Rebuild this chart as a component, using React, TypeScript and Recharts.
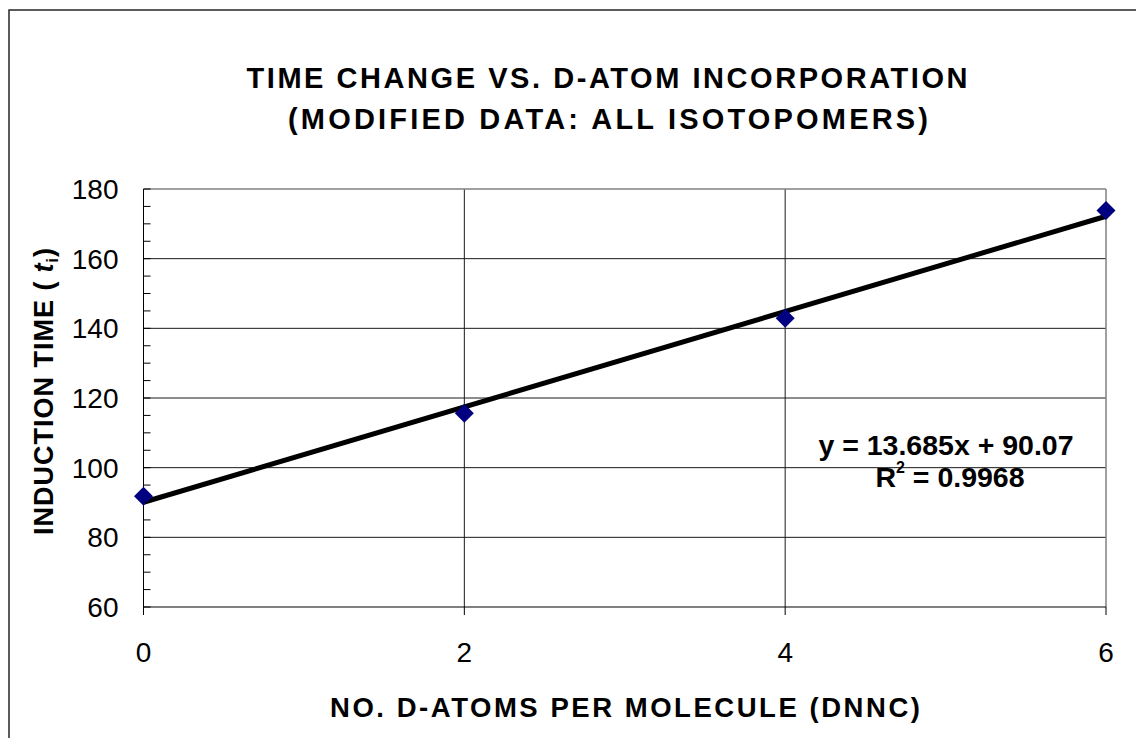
import {
  ComposedChart,
  Line,
  Scatter,
  XAxis,
  YAxis,
  CartesianGrid,
  ReferenceLine,
} from 'recharts'

const FONT = '"Liberation Sans", Arial, sans-serif'

// measured points (no. of D-atoms vs induction time)
const dAtoms = [0, 2, 4, 6]
const inductionTimes = [91.8, 115.6, 142.9, 173.8]

// linear trendline endpoints, y = 13.685x + 90.07
const trendX = [0, 6]
const trendY = [90.07, 172.18]

const xTicks = [0, 2, 4, 6]
const yGridValues = [80, 100, 120, 140, 160]
const yMinorTicks = [
  60, 65, 70, 75, 80, 85, 90, 95, 100, 105, 110, 115, 120, 125, 130, 135, 140, 145, 150, 155, 160,
  165, 170, 175, 180,
]

const points = dAtoms.map((x, i) => ({ x, y: inductionTimes[i] }))
const trend = trendX.map((x, i) => ({ x, y: trendY[i] }))

const Y_TICK_MARGIN = 25

const Diamond = (props: any) => {
  const { cx, cy } = props
  if (cx == null || cy == null) return null
  const r = 9.5
  return (
    <polygon
      points={`${cx},${cy - r} ${cx + r},${cy} ${cx},${cy + r} ${cx - r},${cy}`}
      fill="#000080"
    />
  )
}

// y tick: inward tick mark every 5, label only every 20
const YTick = (props: any) => {
  const { x, y, payload } = props
  const axisX = x + Y_TICK_MARGIN
  const v = payload.value
  return (
    <g>
      <line x1={axisX} x2={axisX + 7} y1={y} y2={y} stroke="#000" strokeWidth={1} />
      {v % 20 === 0 && (
        <text x={x} y={y} dy="0.36em" textAnchor="end" fontSize={28} fill="#000" fontFamily={FONT}>
          {v}
        </text>
      )}
    </g>
  )
}

export default function App() {
  return (
    <div style={{ position: 'absolute', left: 0, top: 0, width: 1136, height: 738, background: '#fff' }}>
      <ComposedChart
        width={1136}
        height={738}
        margin={{ top: 189, right: 30, bottom: 0, left: 0 }}
        style={{ fontFamily: FONT }}
      >
        <CartesianGrid
          stroke="#1a1a1a"
          strokeWidth={1}
          horizontalValues={yGridValues}
          verticalValues={[2, 4]}
        />
        <XAxis
          type="number"
          dataKey="x"
          domain={[0, 6]}
          ticks={xTicks}
          height={131}
          tickSize={8}
          tickMargin={27}
          stroke="#000"
          tick={{ fill: '#000', fontSize: 28, fontFamily: FONT }}
        />
        <YAxis
          type="number"
          domain={[60, 180]}
          ticks={yMinorTicks}
          interval={0}
          width={143.5}
          tickLine={false}
          tickSize={0}
          tickMargin={Y_TICK_MARGIN}
          stroke="#000"
          tick={<YTick />}
        />
        <ReferenceLine y={180} stroke="#808080" strokeWidth={1.5} />
        <ReferenceLine x={6} stroke="#808080" strokeWidth={1.5} />
        <Scatter data={points} dataKey="y" shape={<Diamond />} isAnimationActive={false} />
        <Line
          data={trend}
          dataKey="y"
          type="linear"
          stroke="#000"
          strokeWidth={5}
          dot={false}
          activeDot={false}
          isAnimationActive={false}
        />
      </ComposedChart>
      <svg
        width={1136}
        height={738}
        style={{ position: 'absolute', left: 0, top: 0, pointerEvents: 'none', fontFamily: FONT }}
      >
        <rect x={9} y={10} width={1140} height={740} fill="none" stroke="#262626" strokeWidth={1.5} />
        <text x={607} y={88} textAnchor="middle" fontSize={29} fontWeight="bold" textLength={721} lengthAdjust="spacing">
          TIME CHANGE VS. D-ATOM INCORPORATION
        </text>
        <text x={608} y={129} textAnchor="middle" fontSize={29} fontWeight="bold" textLength={640} lengthAdjust="spacing">
          (MODIFIED DATA:  ALL ISOTOPOMERS)
        </text>
        <text x={625} y={717} textAnchor="middle" fontSize={27.5} fontWeight="bold" textLength={590} lengthAdjust="spacing">
          NO. D-ATOMS PER MOLECULE (DNNC)
        </text>
        <text
          transform="translate(53,391) rotate(-90)"
          textAnchor="middle"
          fontSize={27}
          fontWeight="bold"
          letterSpacing={1}
        >
          INDUCTION TIME (
          <tspan fontStyle="italic" dx={8}>t</tspan>
          <tspan fontSize={16} dy={5}>i</tspan>
          <tspan dy={-5}>)</tspan>
        </text>
        <text x={946} y={455} textAnchor="middle" fontSize={28.5} fontWeight="bold">
          y = 13.685x + 90.07
        </text>
        <text x={950} y={487} textAnchor="middle" fontSize={28.5} fontWeight="bold">
          R<tspan fontSize={16} dy={-14}>2</tspan>
          <tspan dy={14}> = 0.9968</tspan>
        </text>
      </svg>
    </div>
  )
}
